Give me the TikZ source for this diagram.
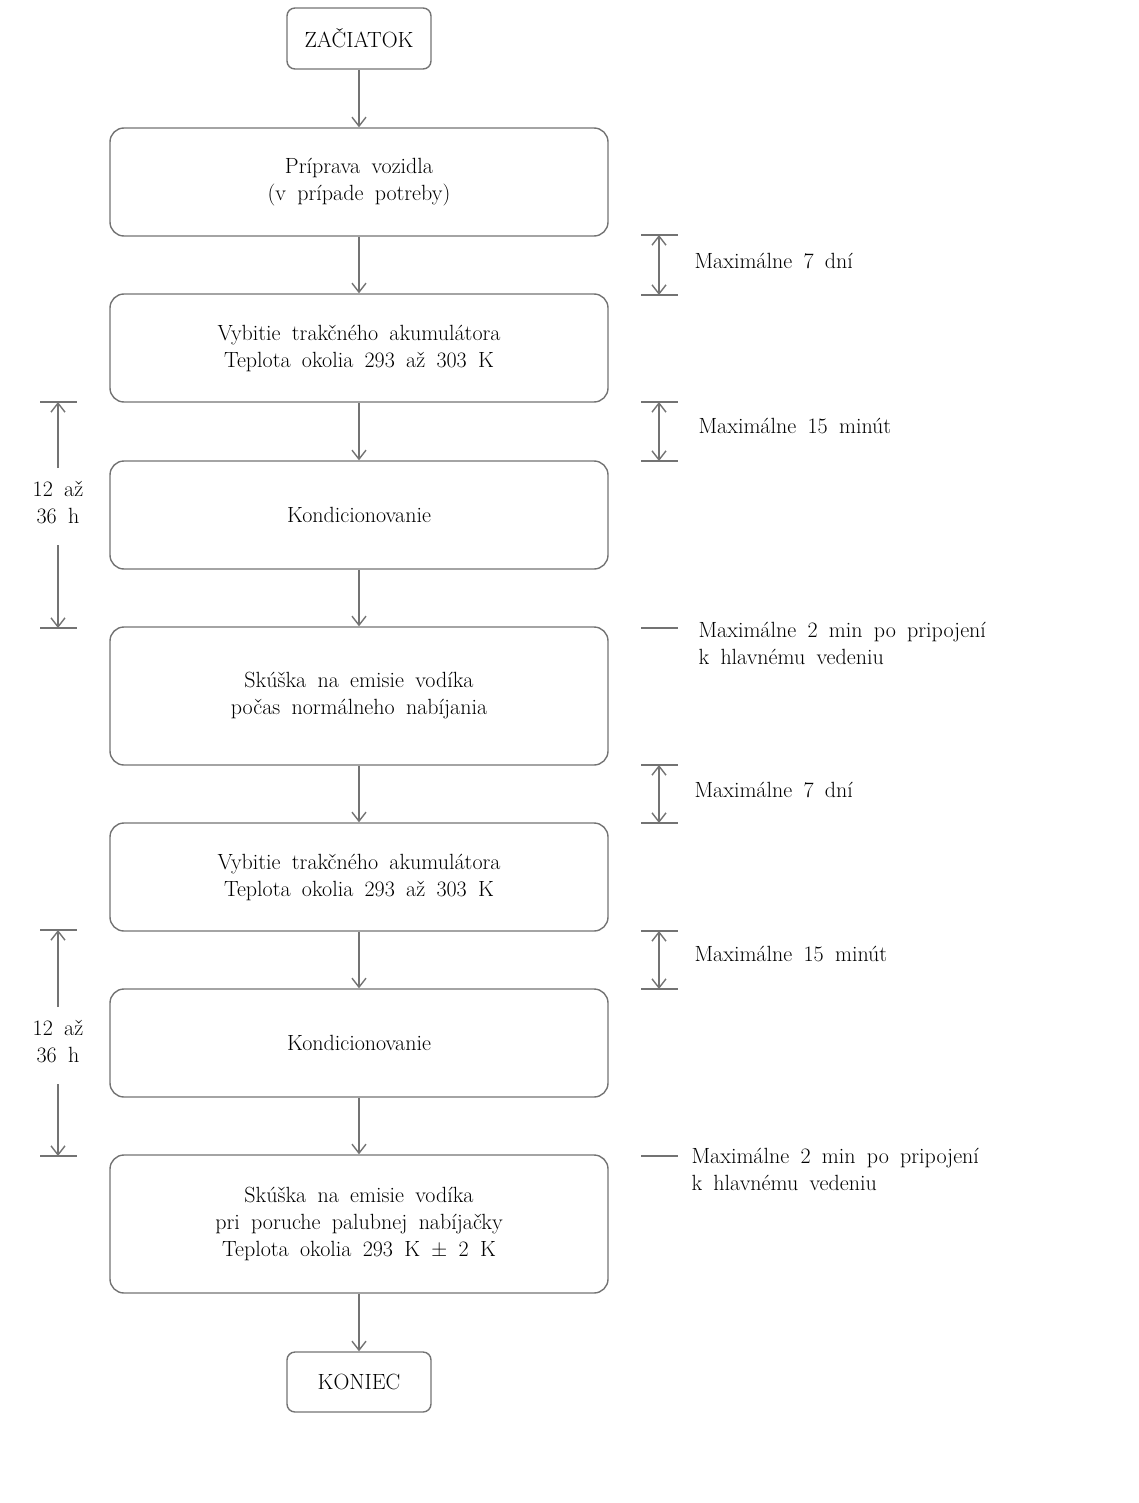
\documentclass[tikz,border=0pt]{standalone}
\usepackage{fontspec}
\setmainfont{Latin Modern Roman}[WordSpace=1.7]
\usetikzlibrary{arrows.meta}
\newcommand{\myfs}{\fontsize{22}{27}\selectfont}
\begin{document}
\begin{tikzpicture}[x=1pt,y=-1pt,
  ln/.style={draw=black!55, line width=1.4pt},
  box/.style={ln, rounded corners=14pt, minimum width=498pt, align=center, font=\myfs},
  term/.style={ln, rounded corners=8pt, minimum width=144pt, minimum height=61pt, font=\myfs},
  arr/.style={ln, -{Straight Barb[length=9pt,width=14pt]}},
  darr/.style={ln, {Straight Barb[length=9pt,width=14pt]}-{Straight Barb[length=9pt,width=14pt]}},
  tick/.style={ln},
  lbl/.style={anchor=west, align=left, font=\myfs},
  llbl/.style={align=center, font=\myfs, inner sep=2pt}]
\useasboundingbox (0,0) rectangle (1138,1503);

% main flow
\node[term] (start) at (359,38.5) {ZAČIATOK};
\node[box, minimum height=108pt] (b1) at (359,182) {Príprava vozidla\\(v prípade potreby)};
\node[box, minimum height=108pt] (b2) at (359,348) {Vybitie trakčného akumulátora\\Teplota okolia 293 až 303 K};
\node[box, minimum height=108pt] (b3) at (359,515) {Kondicionovanie};
\node[box, minimum height=138pt] (b4) at (359,696) {Skúška na emisie vodíka\\počas normálneho nabíjania};
\node[box, minimum height=108pt] (b5) at (359,877) {Vybitie trakčného akumulátora\\Teplota okolia 293 až 303 K};
\node[box, minimum height=108pt] (b6) at (359,1043) {Kondicionovanie};
\node[box, minimum height=138pt] (b7) at (359,1224) {Skúška na emisie vodíka\\pri poruche palubnej nabíjačky\\Teplota okolia 293 K ± 2 K};
\node[term, minimum height=60pt] (end) at (359,1382) {KONIEC};

\draw[arr] (start) -- (b1);
\draw[arr] (b1) -- (b2);
\draw[arr] (b2) -- (b3);
\draw[arr] (b3) -- (b4);
\draw[arr] (b4) -- (b5);
\draw[arr] (b5) -- (b6);
\draw[arr] (b6) -- (b7);
\draw[arr] (b7) -- (end);

% right-hand time brackets
\foreach \i/\ya/\yb in {1/235/295, 2/402/461, 4/765/823, 5/931/989}{
  \coordinate (ra\i) at (659,\ya);
  \coordinate (rb\i) at (659,\yb);
  \draw[tick] ([xshift=-18pt]ra\i) -- ([xshift=19pt]ra\i);
  \draw[tick] ([xshift=-18pt]rb\i) -- ([xshift=19pt]rb\i);
  \draw[darr] (ra\i) -- (rb\i);
}
\coordinate (rc3) at (659,628);
\coordinate (rc6) at (659,1156);
\draw[tick] ([xshift=-18pt]rc3) -- ([xshift=19pt]rc3);
\draw[tick] ([xshift=-18pt]rc6) -- ([xshift=19pt]rc6);

\node[lbl] (t1) at (691,261) {Maximálne 7 dní};
\node[lbl] (t2) at (695,426) {Maximálne 15 minút};
\node[lbl] (t3) at (695,643) {Maximálne 2 min po pripojení\\k hlavnému vedeniu};
\node[lbl] (t4) at (691,790) {Maximálne 7 dní};
\node[lbl] (t5) at (691,954) {Maximálne 15 minút};
\node[lbl] (t6) at (688,1169) {Maximálne 2 min po pripojení\\k hlavnému vedeniu};

% left-hand 12 to 36 h brackets
\foreach \i/\ya/\yb/\ym in {1/402/628/503, 2/930/1156/1042}{
  \coordinate (la\i) at (58,\ya);
  \coordinate (lb\i) at (58,\yb);
  \coordinate (lc\i) at (58,\ym-35);
  \coordinate (ld\i) at (58,\ym+42);
  \draw[tick] ([xshift=-18pt]la\i) -- ([xshift=19pt]la\i);
  \draw[tick] ([xshift=-18pt]lb\i) -- ([xshift=19pt]lb\i);
  \node[llbl] (lt\i) at (58,\ym) {12 až\\36 h};
  \draw[arr] (lc\i) -- (la\i);
  \draw[arr] (ld\i) -- (lb\i);
}
\end{tikzpicture}
\end{document}
